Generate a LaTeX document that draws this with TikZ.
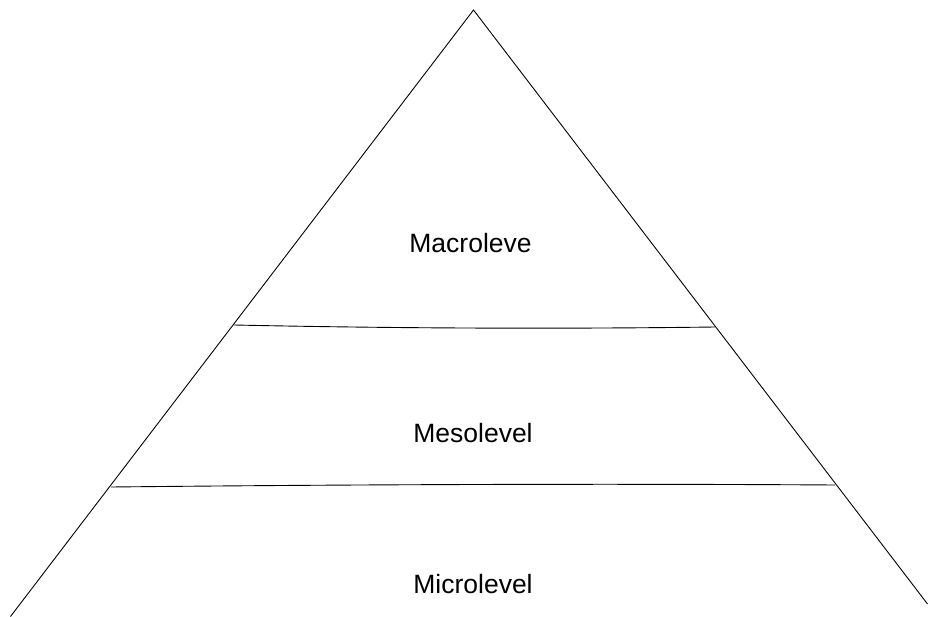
\documentclass[tikz,border=0pt]{standalone}
\usepackage{fontspec}
\setmainfont{Liberation Sans}
\begin{document}
\begin{tikzpicture}[x=1pt,y=-1pt,line width=0.9pt]
		\tikzstyle{every node}+=[inner sep=0pt,font=\fontsize{26.5}{31}\selectfont]
		\useasboundingbox (0,0) rectangle (928,617);
		\coordinate (apex) at (473.5,10);
		\coordinate (bl) at (10.5,616.5);
		\coordinate (br) at (927.5,604);
		\coordinate (ml) at (234,325);
		\coordinate (mr) at (715,327);
		\coordinate (ll) at (111,487);
		\coordinate (lr) at (835,485);
		\draw [black] (bl) -- (apex) -- (br);
		\draw [black] (ml) .. controls (400,328.5) and (560,329) .. (mr);
		\draw [black] (ll) .. controls (350,484.5) and (600,483.5) .. (lr);
		\draw (470.5,243) node (macro) {Macroleve};
		\draw (473,433) node (meso) {Mesolevel};
		\draw (473,584) node (micro) {Microlevel};
	\end{tikzpicture}
\end{document}
